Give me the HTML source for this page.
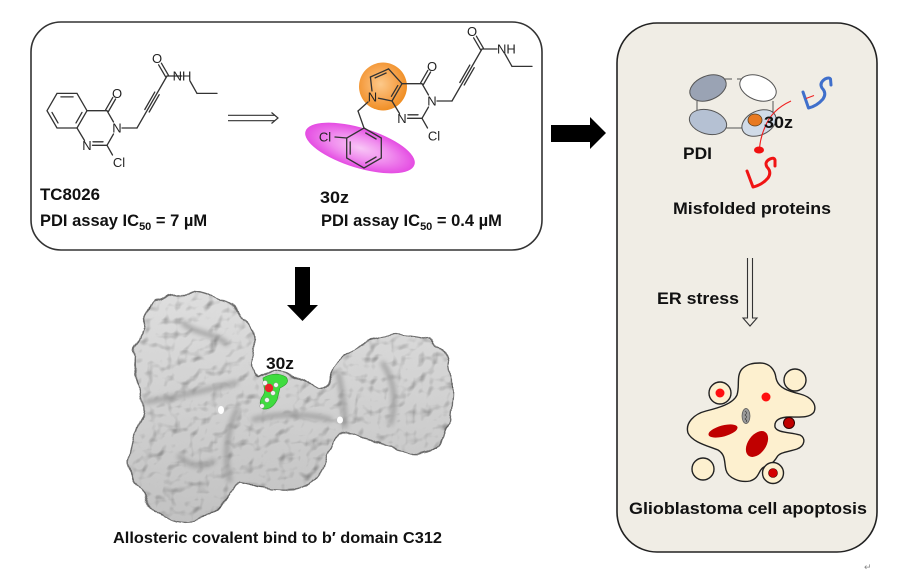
<!DOCTYPE html>
<html><head><meta charset="utf-8"><style>
html,body{margin:0;padding:0;background:#fff;}
svg{display:block;}
text{font-family:"Liberation Sans",Arial,sans-serif;}
.b{font-weight:bold;fill:#111;}
.a{font-size:13px;fill:#222;text-anchor:middle;}
</style></head><body>
<svg width="900" height="587" viewBox="0 0 900 587" xmlns="http://www.w3.org/2000/svg">
<defs>
<radialGradient id="og" cx="0.45" cy="0.45" r="0.6"><stop offset="0" stop-color="#fcc98a"/><stop offset="0.6" stop-color="#f6a24a"/><stop offset="1" stop-color="#ee8a1c"/></radialGradient>
<radialGradient id="mg" cx="0.5" cy="0.5" r="0.55"><stop offset="0" stop-color="#f8c6f6"/><stop offset="0.5" stop-color="#f08cee"/><stop offset="1" stop-color="#e23ee0"/></radialGradient>
<linearGradient id="pg" x1="0" y1="0" x2="0" y2="1"><stop offset="0" stop-color="#dedede"/><stop offset="1" stop-color="#c2c2c2"/></linearGradient>
<filter id="bump" x="-5%" y="-5%" width="110%" height="110%">
<feTurbulence type="fractalNoise" baseFrequency="0.045" numOctaves="2" seed="4" result="n"/>
<feDisplacementMap in="SourceGraphic" in2="n" scale="12" xChannelSelector="R" yChannelSelector="G" result="d"/>
<feTurbulence type="fractalNoise" baseFrequency="0.07" numOctaves="2" seed="9" result="n2"/>
<feDiffuseLighting in="n2" surfaceScale="4" diffuseConstant="1.22" lighting-color="#ffffff" result="lit"><feDistantLight azimuth="235" elevation="58"/></feDiffuseLighting>
<feComposite in="lit" in2="d" operator="in" result="tex"/>
<feBlend in="tex" in2="d" mode="multiply"/>
</filter>
<filter id="bl" x="-20%" y="-20%" width="140%" height="140%"><feGaussianBlur stdDeviation="2.5"/></filter>
</defs>

<!-- Left box -->
<rect x="31" y="22" width="511" height="228" rx="30" ry="30" fill="#fff" stroke="#333" stroke-width="1.6"/>

<!-- TC8026 molecule -->
<g stroke="#333" stroke-width="1.3" fill="none" stroke-linecap="round">
<path d="M87,110.7 L77,128 L57,128 L47,110.7 L57,93.4 L77,93.4 Z"/>
<line x1="60.9" y1="96.9" x2="73.1" y2="96.9"/>
<line x1="58" y1="122.9" x2="52" y2="112.4"/>
<line x1="82" y1="112.4" x2="76" y2="122.9"/>
<line x1="87" y1="110.7" x2="107" y2="110.7"/>
<line x1="107" y1="110.7" x2="113.5" y2="122"/>
<line x1="113.5" y1="134" x2="107" y2="145.3"/>
<line x1="107" y1="145.3" x2="92.5" y2="145.3"/>
<line x1="103" y1="141.8" x2="93" y2="141.8"/>
<line x1="84.5" y1="140.5" x2="77" y2="128"/>
<line x1="108.4" y1="111.5" x2="115.6" y2="99"/>
<line x1="105.6" y1="109.9" x2="112.8" y2="97.4"/>
<line x1="107" y1="145.3" x2="112.5" y2="155"/>
<line x1="122" y1="128" x2="137" y2="128"/>
<line x1="137" y1="128" x2="167" y2="76"/>
<line x1="149.2" y1="112" x2="159.2" y2="94.7"/>
<line x1="144.8" y1="109.5" x2="154.8" y2="92.1"/>
<line x1="168.4" y1="75.2" x2="161.4" y2="63.2"/>
<line x1="165.6" y1="76.8" x2="158.6" y2="64.8"/>
<line x1="167" y1="76" x2="182" y2="76"/>
<line x1="190" y1="81" x2="197" y2="93.4"/>
<line x1="197" y1="93.4" x2="217" y2="93.4"/>
</g>
<g class="a">
<text x="117" y="98" class="a">O</text>
<text x="117" y="132.5" class="a">N</text>
<text x="87" y="150" class="a">N</text>
<text x="119" y="167" class="a">Cl</text>
<text x="157" y="63" class="a">O</text>
<text x="182" y="80.5" style="font-size:13px;fill:#222;">NH</text>
</g>

<!-- double arrow -->
<g stroke="#333" stroke-width="1.2" fill="none">
<line x1="228" y1="115.3" x2="275" y2="115.3"/>
<line x1="228" y1="120.7" x2="275" y2="120.7"/>
<path d="M271.5,112.5 L278,118 L271.5,123.5"/>
</g>

<!-- 30z molecule -->
<ellipse cx="360" cy="148" rx="57" ry="20" transform="rotate(17 360 148)" fill="url(#mg)"/>
<circle cx="383" cy="86.5" r="24" fill="url(#og)"/>
<g stroke="#333" stroke-width="1.3" fill="none" stroke-linecap="round">
<line x1="402" y1="83.7" x2="422" y2="83.7"/>
<line x1="422" y1="83.7" x2="428.5" y2="95"/>
<line x1="428.5" y1="107" x2="422" y2="118.3"/>
<line x1="422" y1="118.3" x2="407.5" y2="118.3"/>
<line x1="418" y1="114.8" x2="408" y2="114.8"/>
<line x1="399.5" y1="113.5" x2="392" y2="101"/>
<line x1="392" y1="101" x2="402" y2="83.7"/>
<line x1="391.4" y1="96.3" x2="397.8" y2="85.6"/>
<line x1="423.4" y1="84.5" x2="430.6" y2="72"/>
<line x1="420.6" y1="82.9" x2="427.8" y2="70.4"/>
<line x1="422" y1="118.3" x2="427.5" y2="128"/>
<line x1="437" y1="101" x2="452" y2="101"/>
<line x1="452" y1="101" x2="482" y2="49"/>
<line x1="464.2" y1="85" x2="474.2" y2="67.7"/>
<line x1="459.8" y1="82.5" x2="469.8" y2="65.1"/>
<line x1="483.4" y1="48.2" x2="476.4" y2="36.2"/>
<line x1="480.6" y1="49.8" x2="473.6" y2="37.8"/>
<line x1="482" y1="49" x2="497" y2="49"/>
<line x1="505" y1="54" x2="512" y2="66.4"/>
<line x1="512" y1="66.4" x2="532" y2="66.4"/>
<line x1="392" y1="101" x2="378.5" y2="98.2"/>
<line x1="372" y1="91" x2="370.4" y2="77"/>
<line x1="370.4" y1="77" x2="388.6" y2="68.9"/>
<line x1="375.1" y1="77.9" x2="386.1" y2="73"/>
<line x1="388.6" y1="68.9" x2="402" y2="83.7"/>
<line x1="368" y1="102" x2="358" y2="111"/>
<line x1="358" y1="111" x2="364" y2="128"/>
<path d="M364,128 L381.3,138 L381.3,158 L364,168 L346.7,158 L346.7,138 Z"/>
<line x1="365.7" y1="133" x2="376.1" y2="139"/>
<line x1="376.1" y1="157" x2="365.7" y2="163"/>
<line x1="350.2" y1="154.1" x2="350.2" y2="141.9"/>
<line x1="346.7" y1="138" x2="335" y2="137"/>
</g>
<text x="432" y="71" class="a">O</text>
<text x="432" y="105.5" class="a">N</text>
<text x="402" y="123" class="a">N</text>
<text x="434" y="140.5" class="a">Cl</text>
<text x="472" y="36" class="a">O</text>
<text x="497" y="53.5" style="font-size:13px;fill:#222;">NH</text>
<text x="372.5" y="101.5" class="a">N</text>
<text x="325" y="141.5" class="a">Cl</text>

<!-- left box captions -->
<text x="40" y="200" class="b" style="font-size:16.5px" textLength="60" lengthAdjust="spacingAndGlyphs">TC8026</text>
<text x="40" y="226" class="b" style="font-size:16.5px">PDI assay IC<tspan font-size="11" dy="4">50</tspan><tspan dy="-4"> = 7 µM</tspan></text>
<text x="320" y="203" class="b" style="font-size:16.5px" textLength="29" lengthAdjust="spacingAndGlyphs">30z</text>
<text x="321" y="226" class="b" style="font-size:16.5px">PDI assay IC<tspan font-size="11" dy="4">50</tspan><tspan dy="-4"> = 0.4 µM</tspan></text>

<!-- black arrows -->
<polygon points="551,125 590,125 590,117 606,133 590,149 590,142 551,142" fill="#000"/>
<polygon points="295,267 310,267 310,305 318,305 302.5,321 287,305 295,305" fill="#000"/>

<!-- protein surface -->
<g filter="url(#bump)">
<path d="M163,297 C175,290 200,290 212,297 C228,303 243,313 250,325 C258,338 258,352 253,362 C250,368 252,374 258,377 C266,372 278,371 290,376 C300,380 310,386 320,388 C330,386 334,366 342,356 C352,346 370,338 390,335 C405,333 425,337 440,345 C450,355 452,380 450,403 C449,420 448,436 438,446 C425,454 405,454 388,447 C372,441 360,436 348,430 C340,428 334,440 330,450 C326,462 320,476 310,484 C298,491 278,491 262,487 C252,484 244,479 238,480 C230,488 226,502 218,510 C208,520 190,525 175,522 C160,518 150,508 143,497 C134,484 128,470 130,455 C132,440 140,425 142,412 C142,400 136,388 135,372 C133,357 135,342 142,330 C146,318 150,305 163,297 Z" fill="url(#pg)" stroke="#6e6e6e" stroke-width="1.4"/>
</g>
<g stroke="#9a9a9a" stroke-width="5" fill="none" filter="url(#bl)" opacity="0.8">
<path d="M145,402 C170,398 200,392 238,382"/>
<path d="M230,482 C224,460 226,430 238,408"/>
<path d="M345,428 C345,410 342,390 338,372"/>
<path d="M252,420 C280,412 310,414 332,420"/>
<path d="M178,455 C190,468 205,468 215,460"/>
<path d="M382,362 C394,380 398,400 390,425"/>
<path d="M182,322 C195,335 215,332 228,345"/>
</g>
<ellipse cx="221" cy="410" rx="3" ry="4" fill="#fff"/>
<ellipse cx="340" cy="420" rx="3" ry="3.5" fill="#fff"/>
<!-- ligand -->
<path d="M263,378 Q275,371 286,377 Q291,383 280,388 L277,400 Q272,410 263,409 Q258,404 262,397 Q266,392 264,387 Z" fill="#3fdc3f" stroke="#2a9a2a" stroke-width="0.6"/>
<g fill="#f2f2f2" stroke="#999" stroke-width="0.5">
<circle cx="265" cy="383" r="2.5"/><circle cx="276" cy="385" r="2.3"/><circle cx="273" cy="393" r="2.3"/><circle cx="267" cy="400" r="2.3"/><circle cx="262" cy="406" r="2.3"/>
</g>
<circle cx="269" cy="388" r="4.2" fill="#e8242a"/>
<text x="266" y="369" class="b" style="font-size:17px" textLength="28" lengthAdjust="spacingAndGlyphs">30z</text>
<text x="113" y="543" class="b" style="font-size:16px" textLength="329" lengthAdjust="spacingAndGlyphs">Allosteric covalent bind to b′ domain C312</text>

<!-- Right panel -->
<rect x="617" y="23" width="260" height="529" rx="40" ry="40" fill="#f0ede5" stroke="#222" stroke-width="1.6"/>
<g stroke="#555" stroke-width="1">
<line x1="725" y1="79" x2="732" y2="79"/>
<line x1="737" y1="79" x2="742" y2="79"/>
<line x1="697" y1="101" x2="697" y2="112"/>
<line x1="773" y1="101" x2="773" y2="113"/>
<line x1="725" y1="128" x2="743" y2="128"/>
</g>
<g stroke="#555" stroke-width="1">
<ellipse cx="708" cy="88" rx="19" ry="12" transform="rotate(-22 708 88)" fill="#9aa3b4"/>
<ellipse cx="758" cy="88" rx="19" ry="12" transform="rotate(22 758 88)" fill="#ffffff"/>
<ellipse cx="708" cy="122" rx="19" ry="12" transform="rotate(15 708 122)" fill="#b5c1d3"/>
<ellipse cx="759" cy="123" rx="18" ry="12" transform="rotate(-25 759 123)" fill="#d0dbe8"/>
</g>
<ellipse cx="755" cy="120" rx="7" ry="6" fill="#e87a22" stroke="#5a4020" stroke-width="0.8"/>
<path d="M791,101 C780,106 770,114 765,127 C761,136 760,143 759.5,148" stroke="#f02020" stroke-width="1.1" fill="none"/>
<ellipse cx="759" cy="150" rx="5" ry="3.5" fill="#f01010"/>
<path d="M803,92 L808.5,108 Q817,106 823,99 Q827,93 822,88 Q819,83 825,79 Q829,77 830.5,79 L831,85" stroke="#3f6fcb" stroke-width="3" fill="none" stroke-linecap="round" stroke-linejoin="round"/>
<line x1="806" y1="98.5" x2="814" y2="95.5" stroke="#f02020" stroke-width="1"/>
<path d="M747,171 L753,187 Q762,185 768,178 Q772,172 767,167 Q764,162 770,159 Q774,157 775,160 L775,166" stroke="#f01414" stroke-width="3" fill="none" stroke-linecap="round" stroke-linejoin="round"/>
<text x="764" y="128" class="b" style="font-size:17px" textLength="29" lengthAdjust="spacingAndGlyphs">30z</text>
<text x="683" y="159" class="b" style="font-size:17px" textLength="29" lengthAdjust="spacingAndGlyphs">PDI</text>
<text x="673" y="214" class="b" style="font-size:17px" textLength="158" lengthAdjust="spacingAndGlyphs">Misfolded proteins</text>

<!-- down double arrow -->
<path d="M747.5,258 L747.5,318 L743,318 L750,326 L757,318 L752.5,318 L752.5,258" fill="none" stroke="#333" stroke-width="1.1"/>
<text x="657" y="304" class="b" style="font-size:17px" textLength="82" lengthAdjust="spacingAndGlyphs">ER stress</text>

<!-- apoptotic cell -->
<g stroke="#222" stroke-width="1.4">
<path d="M760,363 C770,363 775,370 776,378 C778,388 788,391 800,394 C812,397 817,405 814,412 C810,418 800,417 790,417 C780,417 774,420 775,427 C777,433 790,432 800,435 C806,438 805,446 797,449 C788,452 780,452 777,457 C774,462 770,466 764,467 C758,470 760,478 750,481 C740,483 728,478 726,470 C724,462 726,455 718,450 C708,446 692,442 688,433 C685,423 694,414 706,411 C718,408 733,404 737,395 C740,386 736,376 742,369 C747,364 753,363 760,363 Z" fill="#fdf0cf"/>
<circle cx="720" cy="393" r="11" fill="#fdf0cf"/>
<circle cx="795" cy="380" r="11" fill="#fdf0cf"/>
<circle cx="703" cy="469" r="11" fill="#fdf0cf"/>
<circle cx="773" cy="473" r="10.5" fill="#fdf0cf"/>
</g>
<circle cx="720" cy="393" r="4.5" fill="#ff1010"/>
<circle cx="766" cy="397" r="4.5" fill="#ff1010"/>
<circle cx="773" cy="473" r="4.5" fill="#d40000" stroke="#400" stroke-width="0.6"/>
<circle cx="789" cy="423" r="5.5" fill="#c00000" stroke="#300" stroke-width="1"/>
<ellipse cx="723" cy="431" rx="15" ry="5.5" transform="rotate(-15 723 431)" fill="#c00000"/>
<ellipse cx="757" cy="444" rx="9" ry="14.5" transform="rotate(35 757 444)" fill="#c00000"/>
<ellipse cx="746" cy="416" rx="4" ry="7.5" fill="#9a9a9a" stroke="#555" stroke-width="0.7"/>
<path d="M745,411 Q748,413 745,415 Q748,417 745,419 Q748,421 746,422" stroke="#333" stroke-width="0.6" fill="none"/>
<text x="629" y="514" class="b" style="font-size:17px" textLength="238" lengthAdjust="spacingAndGlyphs">Glioblastoma cell apoptosis</text>

<text x="864" y="570" style="font-size:9px;fill:#888;">↵</text>
</svg>
</body></html>
